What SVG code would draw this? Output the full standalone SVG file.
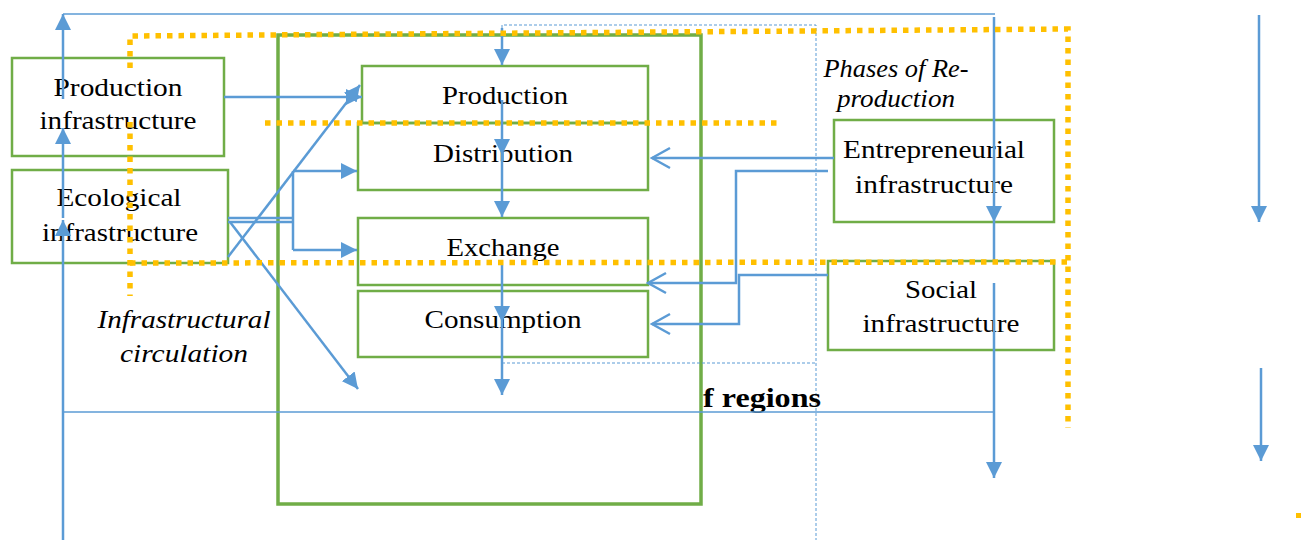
<svg xmlns="http://www.w3.org/2000/svg" width="1308" height="540" viewBox="0 0 1308 540">
<style>
.box{fill:none;stroke:#70AD47;stroke-width:2.5}
.t{font-family:'Times New Roman','Liberation Serif',serif;font-size:26px;fill:#000;text-anchor:middle}
.it{font-family:'Times New Roman','Liberation Serif',serif;font-size:25px;font-style:italic;fill:#000;text-anchor:middle}
.b{font-family:'Times New Roman','Liberation Serif',serif;font-size:28px;font-weight:bold;fill:#000;text-anchor:middle}
.c{fill:none;stroke:#5B9BD5;stroke-width:2.5}
.thin{fill:none;stroke:#5B9BD5;stroke-width:1.5}
.dash{fill:none;stroke:#5B9BD5;stroke-width:1;stroke-dasharray:3 2}
.dot{fill:none;stroke:#FFC000;stroke-width:5.5;stroke-dasharray:5.5 6}
</style>
<defs>
<marker id="tri" markerUnits="userSpaceOnUse" markerWidth="16" markerHeight="16" refX="16" refY="8" orient="auto"><path d="M0,0 L16,8 L0,16 z" fill="#5B9BD5"/></marker>
<marker id="open" markerUnits="userSpaceOnUse" markerWidth="22" markerHeight="24" refX="20" refY="12" orient="auto"><path d="M2,2 L20,12 L2,22" fill="none" stroke="#5B9BD5" stroke-width="2.5"/></marker>
</defs>
<rect width="1308" height="540" fill="#fff"/>

<g id="frame">
<rect x="278" y="35" width="423" height="469" fill="none" stroke="#70AD47" stroke-width="3.5"/>
<path class="dash" d="M502,28 L502,25 L816,25 L816,540 M502,363 L816,363"/>
</g>

<g id="node-production-infra">
<rect class="box" x="12" y="58" width="212" height="98"/>
<text class="t" x="118" y="96" textLength="129" lengthAdjust="spacingAndGlyphs">Production</text>
<text class="t" x="118" y="129" textLength="157" lengthAdjust="spacingAndGlyphs">infrastructure</text>
</g>
<g id="node-ecological-infra">
<rect class="box" x="12" y="170" width="216" height="93"/>
<text class="t" x="119" y="206" textLength="125" lengthAdjust="spacingAndGlyphs">Ecological</text>
<text class="t" x="120" y="241" textLength="156" lengthAdjust="spacingAndGlyphs">infrastructure</text>
</g>
<g id="node-production">
<rect class="box" x="362" y="66" width="286" height="57"/>
<text class="t" x="505" y="104" textLength="126" lengthAdjust="spacingAndGlyphs">Production</text>
</g>
<g id="node-distribution">
<rect class="box" x="358" y="123" width="290" height="67"/>
<text class="t" x="503" y="162" textLength="140" lengthAdjust="spacingAndGlyphs">Distribution</text>
</g>
<g id="node-exchange">
<rect class="box" x="358" y="218" width="290" height="67"/>
<text class="t" x="503" y="256" textLength="113" lengthAdjust="spacingAndGlyphs">Exchange</text>
</g>
<g id="node-consumption">
<rect class="box" x="358" y="291" width="290" height="66"/>
<text class="t" x="503" y="328" textLength="157" lengthAdjust="spacingAndGlyphs">Consumption</text>
</g>
<g id="node-entrepreneurial-infra">
<rect class="box" x="834" y="120" width="220" height="102"/>
<text class="t" x="934" y="158" textLength="182" lengthAdjust="spacingAndGlyphs">Entrepreneurial</text>
<text class="t" x="934" y="193" textLength="158" lengthAdjust="spacingAndGlyphs">infrastructure</text>
</g>
<g id="node-social-infra">
<rect class="box" x="828" y="261" width="226" height="89"/>
<text class="t" x="941" y="298" textLength="72" lengthAdjust="spacingAndGlyphs">Social</text>
<text class="t" x="941" y="332" textLength="157" lengthAdjust="spacingAndGlyphs">infrastructure</text>
</g>

<g id="labels">
<text class="it" x="896" y="77" textLength="145" lengthAdjust="spacingAndGlyphs">Phases of Re-</text>
<text class="it" x="896" y="107" textLength="118" lengthAdjust="spacingAndGlyphs">production</text>
<text class="it" x="184" y="328" textLength="173" lengthAdjust="spacingAndGlyphs">Infrastructural</text>
<text class="it" x="184" y="362" textLength="128" lengthAdjust="spacingAndGlyphs">circulation</text>
<text class="b" x="762" y="407" textLength="118" lengthAdjust="spacingAndGlyphs">f regions</text>
</g>

<g id="connectors">
<path class="thin" d="M63,14 L995,14"/>
<path class="thin" d="M63,412 L995,412"/>
<path class="c" d="M63,99 L63,14" marker-end="url(#tri)"/>
<path class="c" d="M63,218 L63,128" marker-end="url(#tri)"/>
<path class="c" d="M63,540 L63,220" marker-end="url(#tri)"/>
<path class="c" d="M994,17 L994,222" marker-end="url(#tri)"/>
<path class="c" d="M994,222 L994,260"/>
<path class="c" d="M994,283 L994,478" marker-end="url(#tri)"/>
<path class="c" d="M1259,15 L1259,222" marker-end="url(#tri)"/>
<path class="c" d="M1261,368 L1261,461" marker-end="url(#tri)"/>
<path class="c" d="M502,28 L502,65" marker-end="url(#tri)"/>
<path class="c" d="M502,100 L502,155" marker-end="url(#tri)"/>
<path class="c" d="M502,155 L502,217" marker-end="url(#tri)"/>
<path class="c" d="M502,265 L502,322" marker-end="url(#tri)"/>
<path class="c" d="M502,322 L502,395" marker-end="url(#tri)"/>
<path class="c" d="M224,97 L362,97" marker-end="url(#tri)"/>
<path class="c" d="M228,257 L360,85" marker-end="url(#tri)"/>
<path class="c" d="M228,218 L293,218 M228,222 L293,222 M293,171 L293,250"/>
<path class="c" d="M293,171 L357,171" marker-end="url(#tri)"/>
<path class="c" d="M293,250 L357,250" marker-end="url(#tri)"/>
<path class="c" d="M230,222 L358,389" marker-end="url(#tri)"/>
<path class="c" d="M834,158 L652,158" marker-end="url(#open)"/>
<path class="c" d="M828,171 L736,171 L736,283 L648,283" marker-end="url(#open)"/>
<path class="c" d="M828,275 L739,275 L739,324 L652,324" marker-end="url(#open)"/>
</g>

<g id="dotted-boundaries">
<path class="dot" d="M130,68 L130,36 L1068,29 L1068,428"/>
<path class="dot" d="M130,122 L130,296"/>
<path class="dot" d="M130,263 L1068,262"/>
<path class="dot" d="M265,123 L780,123"/>
<rect x="1296" y="513" width="5" height="5" fill="#FFC000"/>
</g>
</svg>
